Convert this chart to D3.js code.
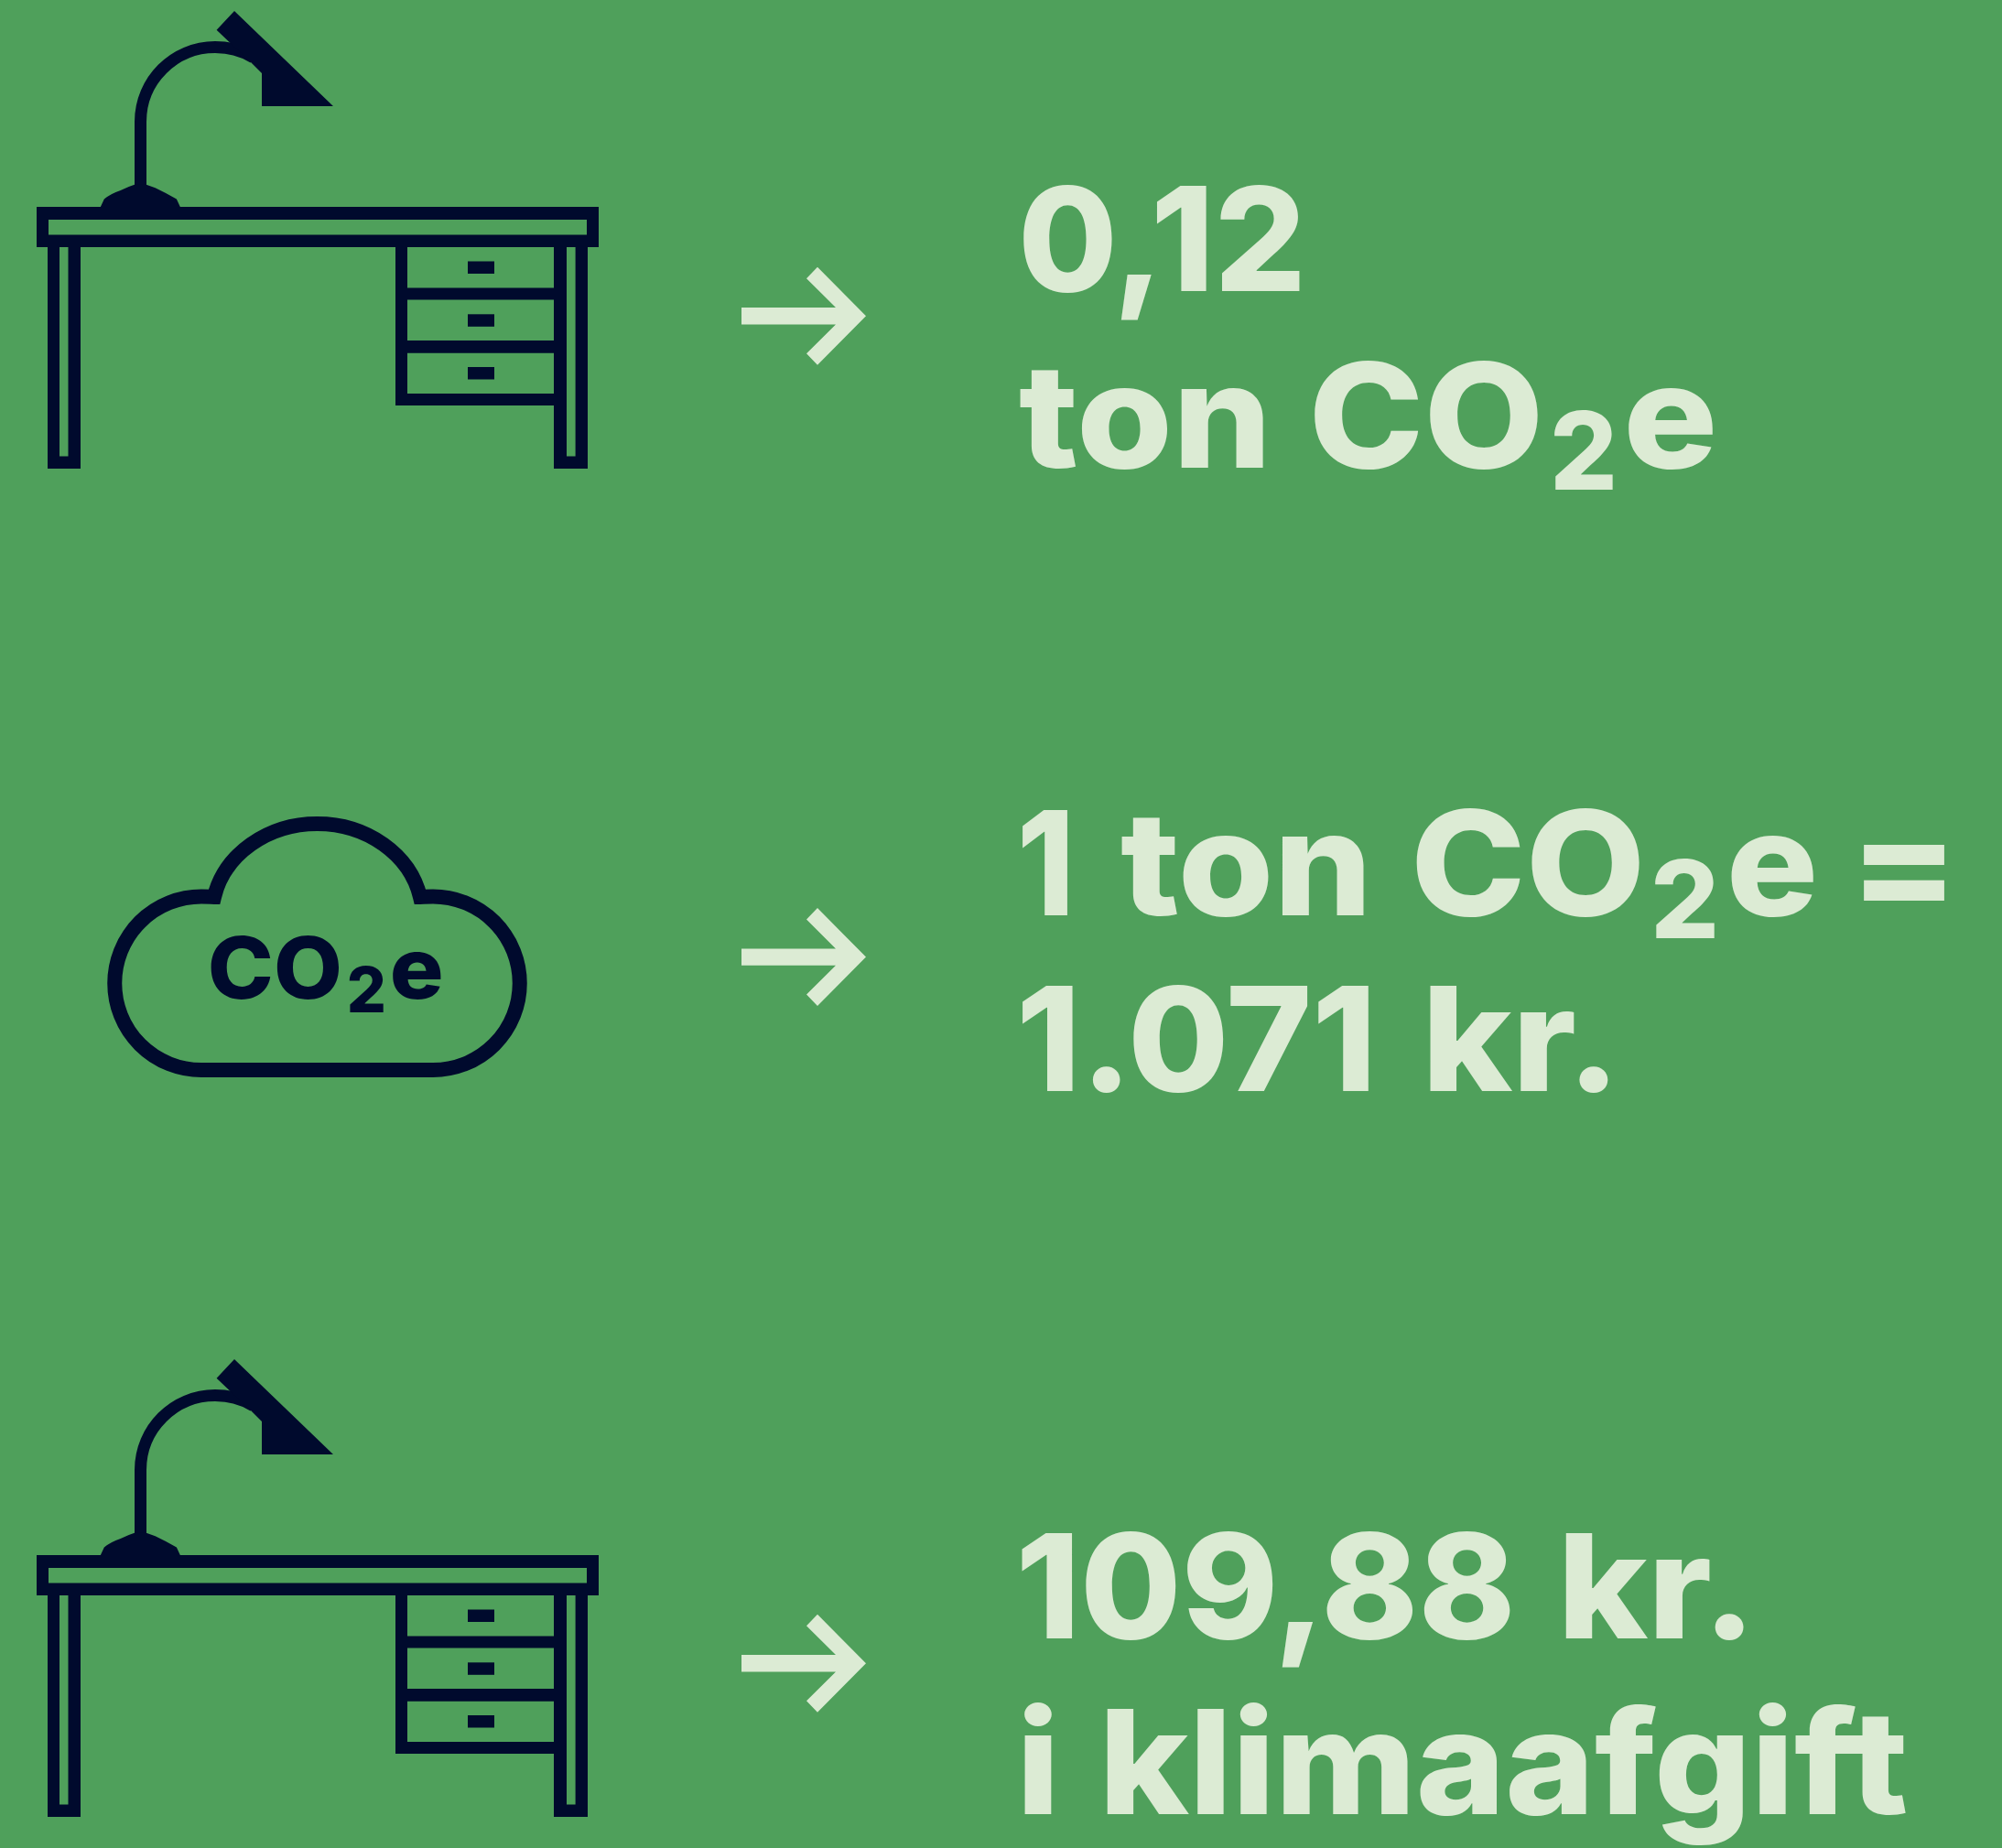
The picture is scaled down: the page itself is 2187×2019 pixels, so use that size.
<!DOCTYPE html>
<html><head><meta charset="utf-8"><style>html,body{margin:0;padding:0;background:#4fa05b;overflow:hidden}svg{display:block}</style>
<script src="https://cdn.jsdelivr.net/npm/d3@7/dist/d3.min.js"></script></head><body><svg id="c"></svg>
<script>
const W=2187,H=2019;
const BG="#4fa05b",DARK="#000a2d",LIGHT="#dcebd4";
const FONT="Inter";
// content
const row1Line1=["0,12"];
const row1Line2=["ton","CO","2","e"];
const row2Line1=["1","ton","CO","2","e","="];
const row2Line2=["1.071","kr."];
const row3Line1=["109,88","kr."];
const row3Line2=["i","klimaafgift"];
const cloudLabel=["CO","2","e"];
const arrowCentres=[345.3,1045.6,1817.3];
const deskOffsets=[0,1473];

const svg=d3.select("#c").attr("width",W).attr("height",H).attr("viewBox",`0 0 ${W} ${H}`);
svg.append("rect").attr("width",W).attr("height",H).attr("fill",BG);

const ctx=document.createElement("canvas").getContext("2d");
// place a word so its inked extent spans x0..x1 on the baseline
function word(g,str,x0,x1,base,size,fill){
  ctx.font=`800 ${size}px ${FONT}`;
  const m=ctx.measureText(str);
  const ink=m.actualBoundingBoxRight+m.actualBoundingBoxLeft;
  const sx=(x1-x0)/ink;
  g.append("text").text(str)
    .attr("transform",`translate(${x0+m.actualBoundingBoxLeft*sx},${base}) scale(${sx},1)`)
    .attr("fill",fill).attr("font-family",FONT).attr("font-weight",800).attr("font-size",size);
}
function desk(dy){
  const g=svg.append("g").attr("transform",`translate(0,${dy})`);
  const p=d3.path();
  const rect=(x0,y0,x1,y1)=>{p.moveTo(x0,y0);p.lineTo(x1,y0);p.lineTo(x1,y1);p.lineTo(x0,y1);p.closePath();};
  rect(40,226,654,270);rect(53,240,641,256.5);
  rect(52,270,88,512);rect(65,270,74.5,498.5);
  rect(605,270,642,512);rect(619,270,628.6,498.5);
  rect(432,270,605,443);
  rect(445,270,605,314.5);rect(445,327.5,605,372);rect(445,385.7,605,430);
  g.append("path").attr("d",p.toString()).attr("fill",DARK).attr("fill-rule","evenodd");
  [285.5,343.3,401].forEach(y=>g.append("rect").attr("x",511).attr("y",y).attr("width",29).attr("height",13.5).attr("fill",DARK));
  g.append("path").attr("d","M153.5,210V133C153.5,88 190,51.5 235,51.5C250,51.5 264,55 277,63").attr("fill","none").attr("stroke",DARK).attr("stroke-width",13);
  g.append("path").attr("d","M256,12L364,116H286V80L274,68L250,45.5L236.6,32.7Z").attr("fill",DARK);
  g.append("path").attr("d","M109.4,227L113.8,217.6Q120,212 131.7,208Q140,204 146.9,201.8H159.8L169.6,205.2Q182,211 192.9,217.6L197.3,227Z").attr("fill",DARK);
}
deskOffsets.forEach(desk);

const cg=svg.append("g");
cg.append("path").attr("d","M234,980C232,980 226,979.5 220,979.5A94.5,94.5 0 0 0 220,1169H473A94.5,94.5 0 0 0 473,979.5C467,979.5 461,980 459,980A115,100.9 0 0 0 234,980Z")
  .attr("fill","none").attr("stroke",DARK).attr("stroke-width",16).attr("stroke-miterlimit",10);
word(cg,cloudLabel[0],230,371,1091,93,DARK);
word(cg,cloudLabel[1],381.7,419,1105.5,69,DARK);
word(cg,cloudLabel[2],429,481.7,1091,93,DARK);

arrowCentres.forEach(c=>{
  const d=[[810,-9.2],[913,-9.2],[881,-41],[893,-53.5],[946,0],[893,53.5],[881,41],[913,9.2],[810,9.2]];
  svg.append("path").attr("d",d3.line().x(q=>q[0]).y(q=>c+q[1])(d)+"Z").attr("fill",LIGHT);
});

const S=158,SS=118;
const T=svg.append("g");
word(T,row1Line1[0],1118,1420,318,S,LIGHT);
word(T,row1Line2[0],1114,1380,511,S,LIGHT);
word(T,row1Line2[1],1436,1680,511,S,LIGHT);
word(T,row1Line2[2],1698,1762,535,SS,LIGHT);
word(T,row1Line2[3],1778.6,1871,511,S,LIGHT);
word(T,row2Line1[0],1117,1166,1000,S,LIGHT);
word(T,row2Line1[1],1225,1490,1000,S,LIGHT);
word(T,row2Line1[2],1547.5,1791,1000,S,LIGHT);
word(T,row2Line1[3],1808,1873,1025,SS,LIGHT);
word(T,row2Line1[4],1891,1981,1000,S,LIGHT);
word(T,row2Line1[5],2036,2125,1000,S,LIGHT);
word(T,row2Line2[0],1117,1495,1192,S,LIGHT);
word(T,row2Line2[1],1561.6,1757,1192,S,LIGHT);
word(T,row3Line1[0],1116.6,1649.7,1790,S,LIGHT);
word(T,row3Line1[1],1710,1905,1790,S,LIGHT);
word(T,row3Line2[0],1118.7,1149.5,1982,S,LIGHT);
word(T,row3Line2[1],1209,2082,1982,S,LIGHT);
</script></body></html>
